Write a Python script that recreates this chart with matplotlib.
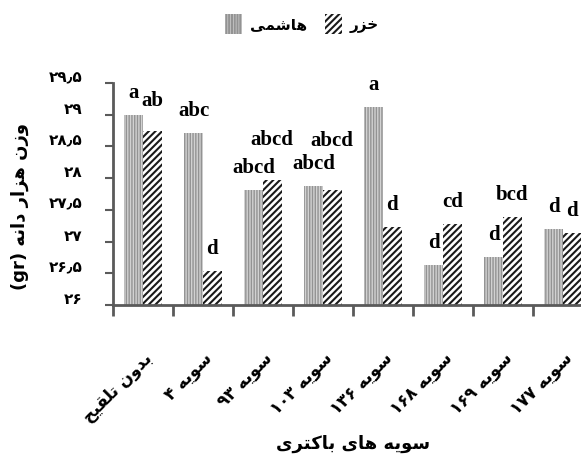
import matplotlib
matplotlib.use("Agg")
import matplotlib.pyplot as plt
import matplotlib.transforms as mtransforms
import numpy as np

# --- データ ---
categories = ["بدون تلقیح", "سویه ۴", "سویه ۹۳", "سویه ۱۰۳",
              "سویه ۱۳۶", "سویه ۱۶۸", "سویه ۱۶۹", "سویه ۱۷۷"]
hashemi = [29.00, 28.71, 27.82, 27.88, 29.12, 26.63, 26.75, 27.20]
khazar = [28.75, 26.53, 27.97, 27.82, 27.23, 27.28, 27.39, 27.14]
hashemi_letters = ["a", "abc", "abcd", "abcd", "a", "d", "d", "d"]
khazar_letters = ["ab", "d", "abcd", "abcd", "d", "cd", "bcd", "d"]
yticks = [26, 26.5, 27, 27.5, 28, 28.5, 29, 29.5]
series_names = ["هاشمی", "خزر"]
x_title = "سویه های باکتری"
y_title = "وزن هزار دانه (gr)"

# 文字のずらし量（px）— 重なり回避用
khazar_lift = [8, 0, 18, 27, 0, 0, 0, 0]

# --- ペルシア文字の簡易シェーピング ---
_DUAL = {
    "ب": (0xFE8F, 0xFE90, 0xFE91, 0xFE92), "ت": (0xFE95, 0xFE96, 0xFE97, 0xFE98),
    "ح": (0xFEA1, 0xFEA2, 0xFEA3, 0xFEA4), "خ": (0xFEA5, 0xFEA6, 0xFEA7, 0xFEA8),
    "س": (0xFEB1, 0xFEB2, 0xFEB3, 0xFEB4), "ش": (0xFEB5, 0xFEB6, 0xFEB7, 0xFEB8),
    "ق": (0xFED5, 0xFED6, 0xFED7, 0xFED8), "ک": (0xFED9, 0xFEDA, 0xFEDB, 0xFEDC),
    "ل": (0xFEDD, 0xFEDE, 0xFEDF, 0xFEE0), "م": (0xFEE1, 0xFEE2, 0xFEE3, 0xFEE4),
    "ن": (0xFEE5, 0xFEE6, 0xFEE7, 0xFEE8), "ه": (0xFEE9, 0xFEEA, 0xFEEB, 0xFEEC),
    "ی": (0xFEEF, 0xFEF0, 0xFEF3, 0xFEF4),
}
_RIGHT = {"ا": (0xFE8D, 0xFE8E), "د": (0xFEA9, 0xFEAA), "ر": (0xFEAD, 0xFEAE),
          "ز": (0xFEAF, 0xFEB0), "و": (0xFEED, 0xFEEE)}


def _shape(word):
    out = []
    for i, ch in enumerate(word):
        prev_j = i > 0 and word[i - 1] in _DUAL
        next_j = i < len(word) - 1 and (word[i + 1] in _DUAL or word[i + 1] in _RIGHT)
        if ch in _DUAL:
            f = _DUAL[ch]
            c = f[3] if (prev_j and next_j) else f[1] if prev_j else f[2] if next_j else f[0]
        elif ch in _RIGHT:
            c = _RIGHT[ch][1] if prev_j else _RIGHT[ch][0]
        else:
            c = ord(ch)
        out.append(chr(c))
    return "".join(out)


def fa(text):
    toks = []
    for t in text.split(" "):
        if any(ch in _DUAL or ch in _RIGHT for ch in t):
            toks.append(_shape(t)[::-1])
        else:
            toks.append(t)
    return " ".join(toks[::-1])


_DIGITS = str.maketrans("0123456789.", "۰۱۲۳۴۵۶۷۸۹٫")


def fa_num(v):
    return f"{v:g}".translate(_DIGITS)


FA_FONT = ["DejaVu Sans", "Noto Sans"]
GRAY = "#5a5a5a"
plt.rcParams["hatch.linewidth"] = 1.5

fig = plt.figure(figsize=(5.81, 4.57), dpi=100)
ax = fig.add_axes([113 / 581, 152 / 457, 480 / 581, 222 / 457])

x = np.arange(len(categories)) + 0.5
w = 0.31
b1 = ax.bar(x - w / 2, np.array(hashemi) - 26, w, bottom=26, color="#d2d2d2",
            edgecolor="#939393", hatch="||||||", linewidth=0)
b2 = ax.bar(x + w / 2, np.array(khazar) - 26, w, bottom=26, color="white",
            edgecolor="#1a1a1a", hatch="/////", linewidth=0)
# 点描バーは細いハッチ線に
for p in b1:
    if hasattr(p, "set_hatch_linewidth"):
        p.set_hatch_linewidth(1.0)

ax.set_xlim(0, len(categories))
ax.set_ylim(26, 29.5)

# 有意差の文字
px = 222 / 3.5  # 1単位あたりのピクセル
for xi, v, s in zip(x - w / 2, hashemi, hashemi_letters):
    ax.text(xi, v + 17 / px, s, ha="center", va="baseline", fontsize=15,
            fontweight="bold", family="Liberation Serif")
for xi, v, s, lift in zip(x + w / 2, khazar, khazar_letters, khazar_lift):
    ax.text(xi, v + (17 + lift) / px, s, ha="center", va="baseline", fontsize=15,
            fontweight="bold", family="Liberation Serif")

# 軸
for side in ["top", "right"]:
    ax.spines[side].set_visible(False)
for side in ["left", "bottom"]:
    ax.spines[side].set_color(GRAY)
    ax.spines[side].set_linewidth(2)

ax.set_xticks(np.arange(len(categories) + 1))
ax.set_xticklabels([])
ax.tick_params(axis="x", direction="out", length=8, width=2, color=GRAY)

ax.set_yticks(yticks)
ax.set_yticklabels([fa_num(v) for v in yticks], family=FA_FONT,
                   fontweight="bold", fontsize=11)
ax.tick_params(axis="y", direction="out", length=6, width=1.5, color=GRAY, pad=16)
offset = mtransforms.ScaledTranslation(0, 5 / 72, fig.dpi_scale_trans)
for lbl in ax.get_yticklabels():
    lbl.set_transform(lbl.get_transform() + offset)

# カテゴリラベル（斜め）
for xi, c in zip(x, categories):
    ax.text(xi, -0.2, fa(c), transform=ax.get_xaxis_transform(),
            rotation=45, rotation_mode="anchor", ha="right", va="top",
            family=FA_FONT, fontweight="bold", fontsize=12)

fig.text(353 / 581, 1 - 444 / 457, fa(x_title), ha="center", va="center",
         family=FA_FONT, fontweight="bold", fontsize=13)
fig.text(20 / 581, 1 - 207 / 457, fa(y_title), ha="center", va="center",
         rotation=90, family=FA_FONT, fontweight="bold", fontsize=13)

fig.legend([b1, b2], [fa(n) for n in series_names], loc="center",
           bbox_to_anchor=(302 / 581, 1 - 24 / 457), ncol=2, frameon=False,
           handlelength=1.1, handleheight=1.6, columnspacing=1.2,
           handletextpad=0.5, prop={"family": FA_FONT, "weight": "bold", "size": 11})

fig.savefig("out.png", dpi=100)
